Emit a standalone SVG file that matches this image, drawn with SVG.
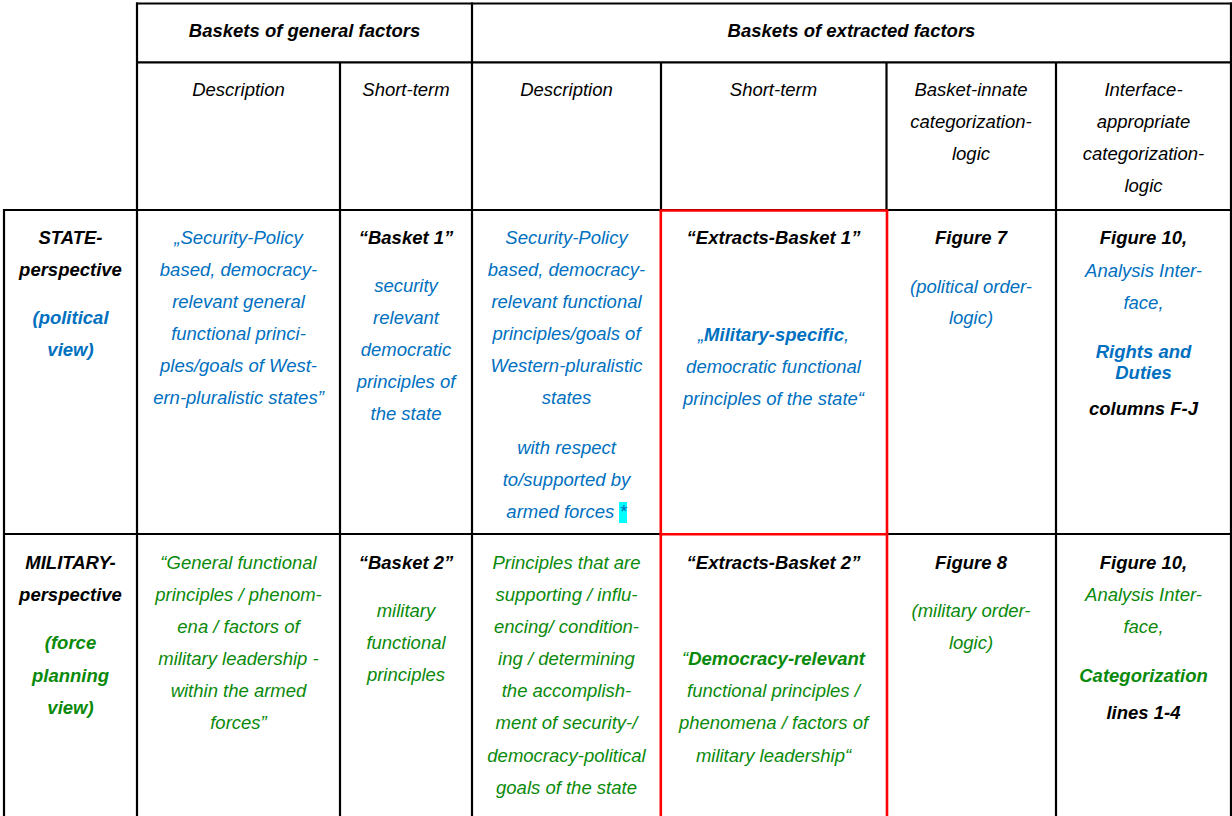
<svg xmlns="http://www.w3.org/2000/svg" width="1232" height="816" viewBox="0 0 1232 816">
<style>
text{font-family:"Liberation Sans",Arial,sans-serif;font-size:18.5px;font-style:italic;text-anchor:middle;fill:#000}
.b{font-weight:bold}
.bl{fill:#0070C0}
.gr{fill:#0A8A0A}
.k{fill:#000}
.n{font-weight:normal}
.grid line{stroke:#000;stroke-width:2.2}
.grid line.r{stroke:#FF0000;stroke-width:2.6}
</style>
<rect width="1232" height="816" fill="#fff"/>
<g id="cell-head-general">
<text class="b" x="304.5" y="37">Baskets of general factors</text>
</g>
<g id="cell-head-extracted">
<text class="b" x="851.5" y="37">Baskets of extracted factors</text>
</g>
<g id="cell-head-desc1"><text x="238.5" y="96">Description</text></g>
<g id="cell-head-short1"><text x="406" y="96">Short-term</text></g>
<g id="cell-head-desc2"><text x="566.5" y="96">Description</text></g>
<g id="cell-head-short2"><text x="773.5" y="96">Short-term</text></g>
<g id="cell-head-innate">
<text x="971" y="96">Basket-innate</text>
<text x="971" y="128">categorization-</text>
<text x="971" y="160">logic</text>
</g>
<g id="cell-head-interface">
<text x="1143.5" y="96">Interface-</text>
<text x="1143.5" y="128">appropriate</text>
<text x="1143.5" y="160">categorization-</text>
<text x="1143.5" y="192">logic</text>
</g>

<g id="cell-state-label">
<text class="b" x="70.5" y="244">STATE-</text>
<text class="b" x="70.5" y="276">perspective</text>
<text class="b bl" x="70.5" y="324">(political</text>
<text class="b bl" x="70.5" y="356">view)</text>
</g>
<g id="cell-state-desc1" class="bl">
<text class="bl" x="238.5" y="244">„Security-Policy</text>
<text class="bl" x="238.5" y="276">based, democracy-</text>
<text class="bl" x="238.5" y="308">relevant general</text>
<text class="bl" x="238.5" y="340">functional princi-</text>
<text class="bl" x="238.5" y="372">ples/goals of West-</text>
<text class="bl" x="238.5" y="404">ern-pluralistic states”</text>
</g>
<g id="cell-state-short1">
<text class="b" x="406" y="244">“Basket 1”</text>
<text class="bl" x="406" y="292">security</text>
<text class="bl" x="406" y="324">relevant</text>
<text class="bl" x="406" y="356">democratic</text>
<text class="bl" x="406" y="388">principles of</text>
<text class="bl" x="406" y="420">the state</text>
</g>
<g id="cell-state-desc2">
<rect x="619" y="502" width="8" height="21" fill="#00FFFF"/>
<text class="bl" x="566.5" y="244">Security-Policy</text>
<text class="bl" x="566.5" y="276">based, democracy-</text>
<text class="bl" x="566.5" y="308">relevant functional</text>
<text class="bl" x="566.5" y="340">principles/goals of</text>
<text class="bl" x="566.5" y="372">Western-pluralistic</text>
<text class="bl" x="566.5" y="404">states</text>
<text class="bl" x="566.5" y="454">with respect</text>
<text class="bl" x="566.5" y="486">to/supported by</text>
<text class="bl" x="566.5" y="518">armed forces *</text>
</g>
<g id="cell-state-short2">
<text class="b" x="773.5" y="244">“Extracts-Basket 1”</text>
<text class="bl" x="773.5" y="341">„<tspan class="b">Military-specific</tspan>,</text>
<text class="bl" x="773.5" y="373">democratic functional</text>
<text class="bl" x="773.5" y="405">principles of the state“</text>
</g>
<g id="cell-state-innate">
<text class="b" x="971" y="244">Figure 7</text>
<text class="bl" x="971" y="293">(political order-</text>
<text class="bl" x="971" y="324">logic)</text>
</g>
<g id="cell-state-interface">
<text class="b" x="1143.5" y="244">Figure 10,</text>
<text class="bl" x="1143.5" y="277">Analysis Inter-</text>
<text class="bl" x="1143.5" y="309">face,</text>
<text class="b bl" x="1143.5" y="358">Rights and</text>
<text class="b bl" x="1143.5" y="379">Duties</text>
<text class="b" x="1143.5" y="415">columns F-J</text>
</g>

<g id="cell-mil-label">
<text class="b" x="70.5" y="569">MILITARY-</text>
<text class="b" x="70.5" y="601">perspective</text>
<text class="b gr" x="70.5" y="649">(force</text>
<text class="b gr" x="70.5" y="682">planning</text>
<text class="b gr" x="70.5" y="714">view)</text>
</g>
<g id="cell-mil-desc1">
<text class="gr" x="238.5" y="569">“General functional</text>
<text class="gr" x="238.5" y="601">principles / phenom-</text>
<text class="gr" x="238.5" y="633">ena / factors of</text>
<text class="gr" x="238.5" y="665">military leadership -</text>
<text class="gr" x="238.5" y="697">within the armed</text>
<text class="gr" x="238.5" y="729">forces”</text>
</g>
<g id="cell-mil-short1">
<text class="b" x="406" y="569">“Basket 2”</text>
<text class="gr" x="406" y="617">military</text>
<text class="gr" x="406" y="649">functional</text>
<text class="gr" x="406" y="681">principles</text>
</g>
<g id="cell-mil-desc2">
<text class="gr" x="566.5" y="569">Principles that are</text>
<text class="gr" x="566.5" y="601">supporting / influ-</text>
<text class="gr" x="566.5" y="633">encing/ condition-</text>
<text class="gr" x="566.5" y="665">ing / determining</text>
<text class="gr" x="566.5" y="697">the accomplish-</text>
<text class="gr" x="566.5" y="729">ment of security-/</text>
<text class="gr" x="566.5" y="762">democracy-political</text>
<text class="gr" x="566.5" y="794">goals of the state</text>
</g>
<g id="cell-mil-short2">
<text class="b" x="773.5" y="569">“Extracts-Basket 2”</text>
<text class="gr" x="773.5" y="665">“<tspan class="b">Democracy-relevant</tspan></text>
<text class="gr" x="773.5" y="697">functional principles /</text>
<text class="gr" x="773.5" y="729">phenomena / factors of</text>
<text class="gr" x="773.5" y="762">military leadership“</text>
</g>
<g id="cell-mil-innate">
<text class="b" x="971" y="569">Figure 8</text>
<text class="gr" x="971" y="617">(military order-</text>
<text class="gr" x="971" y="649">logic)</text>
</g>
<g id="cell-mil-interface">
<text class="b" x="1143.5" y="569">Figure 10,</text>
<text class="gr" x="1143.5" y="601">Analysis Inter-</text>
<text class="gr" x="1143.5" y="633">face,</text>
<text class="b gr" x="1143.5" y="682">Categorization</text>
<text class="b" x="1143.5" y="719">lines 1-4</text>
</g>

<g id="connectors" class="grid">
<line x1="136" y1="3.5" x2="1232" y2="3.5"/>
<line x1="136" y1="62.3" x2="1232" y2="62.3"/>
<line x1="3" y1="210" x2="1232" y2="210"/>
<line x1="3" y1="534" x2="1232" y2="534"/>
<line x1="137" y1="2.5" x2="137" y2="816"/>
<line x1="472" y1="2.5" x2="472" y2="816"/>
<line x1="1231" y1="2.5" x2="1231" y2="816"/>
<line x1="340" y1="62" x2="340" y2="816"/>
<line x1="661" y1="62" x2="661" y2="210"/>
<line x1="886.5" y1="62" x2="886.5" y2="210"/>
<line x1="1056" y1="62" x2="1056" y2="816"/>
<line x1="4" y1="209" x2="4" y2="816"/>
<line class="r" x1="660.8" y1="210" x2="660.8" y2="816"/>
<line class="r" x1="887" y1="210" x2="887" y2="816"/>
<line class="r" x1="659.5" y1="210.5" x2="888.3" y2="210.5"/>
<line class="r" x1="659.5" y1="534.3" x2="888.3" y2="534.3"/>
</g>
</svg>
